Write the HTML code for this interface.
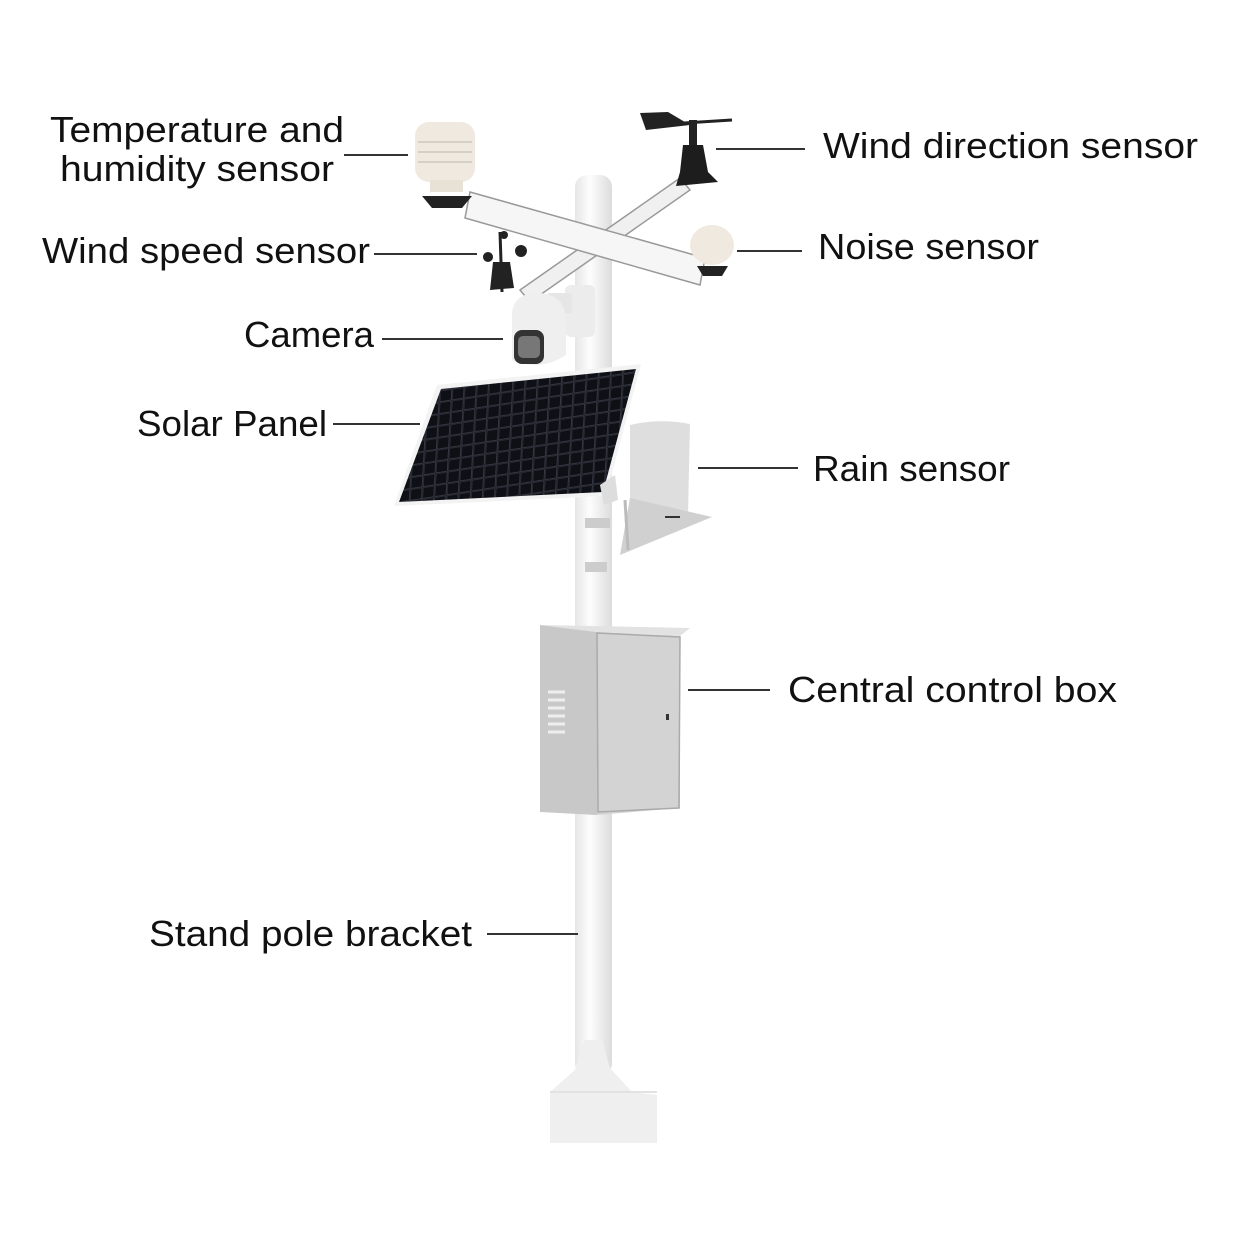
<!DOCTYPE html>
<html><head><style>
body{margin:0;background:#fff}
svg text{font-family:"Liberation Sans",sans-serif;font-size:36px;fill:#111}
</style></head><body>
<svg width="1250" height="1250" viewBox="0 0 1250 1250" xmlns="http://www.w3.org/2000/svg">
<defs>
<linearGradient id="pole" x1="0" x2="1"><stop offset="0" stop-color="#e6e6e6"/><stop offset="0.4" stop-color="#fdfdfd"/><stop offset="1" stop-color="#dcdcdc"/></linearGradient>
<pattern id="cells" width="12" height="12" patternUnits="userSpaceOnUse" patternTransform="skewX(-12) rotate(-9)">
<rect width="12" height="12" fill="#1a1c24"/><rect x="0" y="0" width="11" height="11" fill="#0e1016" stroke="#3a3d48" stroke-width="0.8"/></pattern>
</defs>
<!-- pole -->
<rect x="575" y="175" width="37" height="900" rx="12" fill="url(#pole)"/>
<path d="M585 1040 L602 1040 L610 1068 L632 1092 L657 1095 L657 1143 L550 1143 L550 1092 L575 1070 Z" fill="#efefef"/>
<path d="M550 1092 L657 1092" stroke="#e2e2e2" stroke-width="2"/>
<!-- crossarms -->
<path d="M520 290 L680 178 L690 190 L530 302 Z" fill="#f0f0f0" stroke="#999" stroke-width="1.5"/>
<path d="M470 192 L705 258 L700 285 L465 218 Z" fill="#f6f6f6" stroke="#999" stroke-width="1.5"/>
<!-- temp/humidity sensor -->
<rect x="415" y="122" width="60" height="60" rx="14" fill="#efe9df"/>
<path d="M418 142 H472 M418 152 H472 M418 162 H472" stroke="#d5cfc4" stroke-width="2"/>
<rect x="430" y="180" width="33" height="12" fill="#e8e2d6"/>
<path d="M422 196 L472 196 L462 208 L432 208 Z" fill="#222"/>
<!-- wind direction -->
<path d="M640 113 L668 112 L690 125 L646 130 Z" fill="#222"/>
<path d="M668 124 L732 120" stroke="#222" stroke-width="3"/>
<rect x="689" y="120" width="8" height="25" fill="#222"/>
<path d="M683 145 L703 145 L708 172 L718 182 L676 186 L680 172 Z" fill="#1d1d1d"/>
<!-- noise sensor -->
<ellipse cx="712" cy="245" rx="22" ry="20" fill="#efe9df"/>
<path d="M697 266 L728 266 L722 276 L703 276 Z" fill="#222"/>
<!-- wind speed -->
<path d="M500 232 L502 292" stroke="#222" stroke-width="3"/>
<circle cx="488" cy="257" r="5" fill="#222"/><circle cx="521" cy="251" r="6" fill="#222"/><circle cx="504" cy="235" r="4" fill="#222"/>
<path d="M493 262 L510 262 L514 288 L490 290 Z" fill="#222"/>
<!-- camera -->
<rect x="565" y="285" width="30" height="52" rx="6" fill="#ececec"/>
<rect x="548" y="293" width="24" height="20" fill="#e6e6e6"/>
<path d="M512 312 Q515 292 540 293 Q565 295 566 320 L566 355 Q540 372 512 360 Z" fill="#efefef"/>
<rect x="514" y="330" width="30" height="34" rx="8" fill="#333"/>
<rect x="518" y="336" width="22" height="22" rx="5" fill="#777"/>
<!-- solar panel -->
<path d="M437 385 L641 364 L606 496 L394 506 Z" fill="#f3f3f3"/>
<path d="M441 389 L636 369 L603 492 L399 502 Z" fill="url(#cells)"/>
<path d="M600 485 L615 475 L618 500 L604 505 Z" fill="#ddd"/>
<!-- rain sensor -->
<path d="M630 425 Q660 418 690 424 L688 515 L630 520 Z" fill="#dedede"/>
<path d="M630 498 L712 517 L620 555 Z" fill="#d0d0d0"/>
<path d="M625 500 L628 550" stroke="#bbb" stroke-width="3"/>
<path d="M665 517 H680" stroke="#333" stroke-width="2"/>
<rect x="585" y="518" width="25" height="10" fill="#ccc"/>
<rect x="585" y="562" width="22" height="10" fill="#ccc"/>
<!-- control box -->
<path d="M540 625 L597 632 L597 815 L540 812 Z" fill="#c8c8c8"/>
<path d="M597 632 L680 636 L680 808 L597 815 Z" fill="#d3d3d3"/>
<path d="M540 625 L690 628 L680 636 L597 632 Z" fill="#e2e2e2"/>
<path d="M597 633 L680 637 L679 808 L598 812 Z" fill="none" stroke="#aaa" stroke-width="1.5"/>
<path d="M548 692 H565 M548 700 H565 M548 708 H565 M548 716 H565 M548 724 H565 M548 732 H565" stroke="#eee" stroke-width="3"/>
<rect x="666" y="714" width="3" height="6" fill="#333"/>
<!-- leader lines -->
<g stroke="#333" stroke-width="2">
<path d="M344 155 H408"/><path d="M716 149 H805"/><path d="M374 254 H477"/><path d="M737 251 H802"/>
<path d="M382 339 H503"/><path d="M333 424 H420"/><path d="M698 468 H798"/><path d="M688 690 H770"/><path d="M487 934 H578"/>
</g>
<g lengthAdjust="spacingAndGlyphs">
<text x="50" y="142" textLength="294" lengthAdjust="spacingAndGlyphs">Temperature and</text>
<text x="60" y="181" textLength="274" lengthAdjust="spacingAndGlyphs">humidity sensor</text>
<text x="823" y="158" textLength="375" lengthAdjust="spacingAndGlyphs">Wind direction sensor</text>
<text x="42" y="263" textLength="328" lengthAdjust="spacingAndGlyphs">Wind speed sensor</text>
<text x="818" y="259" textLength="221" lengthAdjust="spacingAndGlyphs">Noise sensor</text>
<text x="244" y="347" textLength="130" lengthAdjust="spacingAndGlyphs">Camera</text>
<text x="137" y="436" textLength="190" lengthAdjust="spacingAndGlyphs">Solar Panel</text>
<text x="813" y="481" textLength="197" lengthAdjust="spacingAndGlyphs">Rain sensor</text>
<text x="788" y="702" textLength="329" lengthAdjust="spacingAndGlyphs">Central control box</text>
<text x="149" y="946" textLength="323" lengthAdjust="spacingAndGlyphs">Stand pole bracket</text>
</g>
</svg>
</body></html>
